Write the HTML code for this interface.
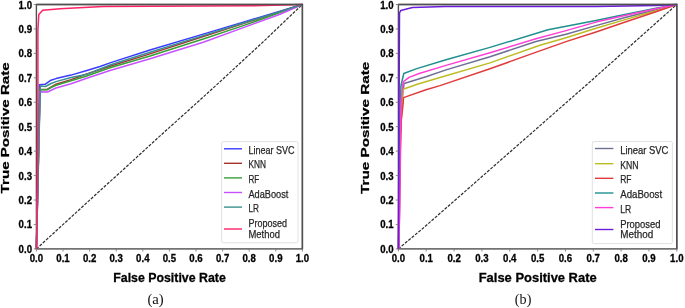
<!DOCTYPE html>
<html><head><meta charset="utf-8"><style>
html,body{margin:0;padding:0;background:#fff;width:685px;height:308px;overflow:hidden;}
.tb{stroke:#000;stroke-width:0.3px}
.tn{stroke:#262626;stroke-width:0.25px}
</style></head><body>
<div style="will-change:transform;width:685px;height:308px">
<svg width="685" height="308" viewBox="0 0 685 308" style="display:block">
<rect width="685" height="308" fill="#fff"/>
<rect x="36.4" y="4.5" width="266.0" height="244.4" fill="none" stroke="#505050" stroke-width="1.4"/>
<polyline points="36.40,248.90 101.60,189.20 122.20,170.60 156.40,139.20 201.30,98.80 221.20,80.65 250.00,54.00 264.50,40.60 286.70,19.30 302.40,4.50" fill="none" stroke="#2e2e2e" stroke-width="1.2" stroke-dasharray="3.0 1.35"/>
<rect x="398.4" y="4.5" width="278.4" height="244.4" fill="none" stroke="#505050" stroke-width="1.4"/>
<polyline points="398.40,248.90 401.10,246.50 423.00,228.30 591.70,80.30 655.40,23.50 676.80,4.50" fill="none" stroke="#2e2e2e" stroke-width="1.2" stroke-dasharray="3.0 1.35"/>
<polyline points="36.40,248.90 39.50,84.80 45.00,84.30 51.00,80.20 56.00,78.60 71.00,75.10 86.00,70.80 100.00,66.50 110.00,62.90 150.00,50.00 204.00,33.90 244.00,21.90 302.40,4.50" fill="none" stroke="#3b3bff" stroke-width="1.5" stroke-linejoin="round" stroke-linecap="butt"/>
<polyline points="36.40,248.90 40.00,89.50 47.00,89.50 56.00,84.20 71.00,79.60 86.00,74.30 110.00,66.20 150.00,53.90 204.00,36.30 244.00,23.40 302.40,4.50" fill="none" stroke="#a83232" stroke-width="1.5" stroke-linejoin="round" stroke-linecap="butt"/>
<polyline points="36.40,248.90 40.00,89.70 47.50,89.70 51.00,87.50 56.00,85.20 71.00,80.80 86.00,76.20 110.00,67.70 150.00,56.00 204.00,38.70 244.00,25.40 280.00,12.60 302.40,4.50" fill="none" stroke="#36a036" stroke-width="1.5" stroke-linejoin="round" stroke-linecap="butt"/>
<polyline points="36.40,248.90 40.00,91.80 47.50,92.00 56.00,88.00 71.00,83.70 86.00,78.50 110.00,70.50 150.00,58.80 204.00,42.00 244.00,27.40 280.00,14.20 302.40,4.50" fill="none" stroke="#c850ff" stroke-width="1.5" stroke-linejoin="round" stroke-linecap="butt"/>
<polyline points="36.40,248.90 40.30,86.00 45.50,86.50 51.00,83.50 56.00,81.60 71.00,77.50 86.00,74.60 110.00,65.00 150.00,52.30 204.00,35.40 244.00,22.80 280.00,11.60 302.40,4.50" fill="none" stroke="#3a8f8f" stroke-width="1.5" stroke-linejoin="round" stroke-linecap="butt"/>
<polyline points="36.40,248.90 37.40,200.00 37.90,110.00 37.90,30.00 38.80,14.60 42.70,10.20 60.00,8.80 103.00,6.50 250.00,5.80 302.40,4.50" fill="none" stroke="#ff2266" stroke-width="1.5" stroke-linejoin="round" stroke-linecap="butt"/>
<polyline points="398.40,248.90 400.00,140.00 402.50,95.00 404.10,83.50 426.00,76.70 446.00,69.90 490.00,56.70 536.00,41.50 566.00,34.20 596.00,25.60 626.00,17.30 656.00,9.70 676.80,4.50" fill="none" stroke="#6f6f95" stroke-width="1.5" stroke-linejoin="round" stroke-linecap="butt"/>
<polyline points="398.40,248.90 400.00,140.00 402.50,100.00 403.10,89.20 418.00,84.00 440.00,77.50 490.00,62.90 540.00,45.20 566.00,37.70 596.00,28.30 626.00,19.40 656.00,10.70 676.80,4.50" fill="none" stroke="#bcbd22" stroke-width="1.5" stroke-linejoin="round" stroke-linecap="butt"/>
<polyline points="398.80,248.90 399.70,204.00 400.50,150.00 401.30,120.00 403.10,104.00 403.50,97.60 426.00,89.80 440.00,85.60 490.00,68.80 530.00,54.40 566.00,41.60 596.00,32.00 626.00,21.70 656.00,11.80 676.80,4.50" fill="none" stroke="#e03c3c" stroke-width="1.5" stroke-linejoin="round" stroke-linecap="butt"/>
<polyline points="398.40,248.90 399.60,140.00 400.90,86.00 403.80,73.50 416.00,68.90 446.00,59.80 490.00,47.40 548.00,29.80 596.00,20.40 626.00,14.20 656.00,8.20 676.80,4.50" fill="none" stroke="#1f8f8f" stroke-width="1.5" stroke-linejoin="round" stroke-linecap="butt"/>
<polyline points="398.80,248.90 399.70,204.00 400.60,126.00 401.00,104.00 402.50,86.00 403.50,81.60 409.00,77.40 419.20,73.50 446.00,65.40 490.00,52.80 536.00,38.70 566.00,30.60 596.00,22.10 626.00,15.20 656.00,8.70 676.80,4.50" fill="none" stroke="#ff3fd8" stroke-width="1.5" stroke-linejoin="round" stroke-linecap="butt"/>
<polyline points="398.40,248.90 399.50,13.00 400.80,10.40 412.50,7.50 445.00,6.50 596.00,6.60 656.00,5.60 676.80,4.50" fill="none" stroke="#6a1ddb" stroke-width="1.5" stroke-linejoin="round" stroke-linecap="butt"/>
<polyline points="36.4,4.5 302.4,4.5 302.4,248.9" fill="none" stroke="#505050" stroke-width="1.4"/>
<line x1="36.40" y1="248.9" x2="36.40" y2="251.5" stroke="#7a7a7a" stroke-width="0.9"/>
<line x1="33.8" y1="248.90" x2="36.4" y2="248.90" stroke="#7a7a7a" stroke-width="0.9"/>
<text x="36.40" y="262.00" font-family='"Liberation Sans", sans-serif' font-size="10.6" font-weight="bold" text-anchor="middle" fill="#000" textLength="13.40" lengthAdjust="spacingAndGlyphs" class="tb">0.0</text>
<text x="32.00" y="252.90" font-family='"Liberation Sans", sans-serif' font-size="10.6" font-weight="bold" text-anchor="end" fill="#000" textLength="13.40" lengthAdjust="spacingAndGlyphs" class="tb">0.0</text>
<line x1="63.00" y1="248.9" x2="63.00" y2="251.5" stroke="#7a7a7a" stroke-width="0.9"/>
<line x1="33.8" y1="224.46" x2="36.4" y2="224.46" stroke="#7a7a7a" stroke-width="0.9"/>
<text x="63.00" y="262.00" font-family='"Liberation Sans", sans-serif' font-size="10.6" font-weight="bold" text-anchor="middle" fill="#000" textLength="13.40" lengthAdjust="spacingAndGlyphs" class="tb">0.1</text>
<text x="32.00" y="228.46" font-family='"Liberation Sans", sans-serif' font-size="10.6" font-weight="bold" text-anchor="end" fill="#000" textLength="13.40" lengthAdjust="spacingAndGlyphs" class="tb">0.1</text>
<line x1="89.60" y1="248.9" x2="89.60" y2="251.5" stroke="#7a7a7a" stroke-width="0.9"/>
<line x1="33.8" y1="200.02" x2="36.4" y2="200.02" stroke="#7a7a7a" stroke-width="0.9"/>
<text x="89.60" y="262.00" font-family='"Liberation Sans", sans-serif' font-size="10.6" font-weight="bold" text-anchor="middle" fill="#000" textLength="13.40" lengthAdjust="spacingAndGlyphs" class="tb">0.2</text>
<text x="32.00" y="204.02" font-family='"Liberation Sans", sans-serif' font-size="10.6" font-weight="bold" text-anchor="end" fill="#000" textLength="13.40" lengthAdjust="spacingAndGlyphs" class="tb">0.2</text>
<line x1="116.20" y1="248.9" x2="116.20" y2="251.5" stroke="#7a7a7a" stroke-width="0.9"/>
<line x1="33.8" y1="175.58" x2="36.4" y2="175.58" stroke="#7a7a7a" stroke-width="0.9"/>
<text x="116.20" y="262.00" font-family='"Liberation Sans", sans-serif' font-size="10.6" font-weight="bold" text-anchor="middle" fill="#000" textLength="13.40" lengthAdjust="spacingAndGlyphs" class="tb">0.3</text>
<text x="32.00" y="179.58" font-family='"Liberation Sans", sans-serif' font-size="10.6" font-weight="bold" text-anchor="end" fill="#000" textLength="13.40" lengthAdjust="spacingAndGlyphs" class="tb">0.3</text>
<line x1="142.80" y1="248.9" x2="142.80" y2="251.5" stroke="#7a7a7a" stroke-width="0.9"/>
<line x1="33.8" y1="151.14" x2="36.4" y2="151.14" stroke="#7a7a7a" stroke-width="0.9"/>
<text x="142.80" y="262.00" font-family='"Liberation Sans", sans-serif' font-size="10.6" font-weight="bold" text-anchor="middle" fill="#000" textLength="13.40" lengthAdjust="spacingAndGlyphs" class="tb">0.4</text>
<text x="32.00" y="155.14" font-family='"Liberation Sans", sans-serif' font-size="10.6" font-weight="bold" text-anchor="end" fill="#000" textLength="13.40" lengthAdjust="spacingAndGlyphs" class="tb">0.4</text>
<line x1="169.40" y1="248.9" x2="169.40" y2="251.5" stroke="#7a7a7a" stroke-width="0.9"/>
<line x1="33.8" y1="126.70" x2="36.4" y2="126.70" stroke="#7a7a7a" stroke-width="0.9"/>
<text x="169.40" y="262.00" font-family='"Liberation Sans", sans-serif' font-size="10.6" font-weight="bold" text-anchor="middle" fill="#000" textLength="13.40" lengthAdjust="spacingAndGlyphs" class="tb">0.5</text>
<text x="32.00" y="130.70" font-family='"Liberation Sans", sans-serif' font-size="10.6" font-weight="bold" text-anchor="end" fill="#000" textLength="13.40" lengthAdjust="spacingAndGlyphs" class="tb">0.5</text>
<line x1="196.00" y1="248.9" x2="196.00" y2="251.5" stroke="#7a7a7a" stroke-width="0.9"/>
<line x1="33.8" y1="102.26" x2="36.4" y2="102.26" stroke="#7a7a7a" stroke-width="0.9"/>
<text x="196.00" y="262.00" font-family='"Liberation Sans", sans-serif' font-size="10.6" font-weight="bold" text-anchor="middle" fill="#000" textLength="13.40" lengthAdjust="spacingAndGlyphs" class="tb">0.6</text>
<text x="32.00" y="106.26" font-family='"Liberation Sans", sans-serif' font-size="10.6" font-weight="bold" text-anchor="end" fill="#000" textLength="13.40" lengthAdjust="spacingAndGlyphs" class="tb">0.6</text>
<line x1="222.60" y1="248.9" x2="222.60" y2="251.5" stroke="#7a7a7a" stroke-width="0.9"/>
<line x1="33.8" y1="77.82" x2="36.4" y2="77.82" stroke="#7a7a7a" stroke-width="0.9"/>
<text x="222.60" y="262.00" font-family='"Liberation Sans", sans-serif' font-size="10.6" font-weight="bold" text-anchor="middle" fill="#000" textLength="13.40" lengthAdjust="spacingAndGlyphs" class="tb">0.7</text>
<text x="32.00" y="81.82" font-family='"Liberation Sans", sans-serif' font-size="10.6" font-weight="bold" text-anchor="end" fill="#000" textLength="13.40" lengthAdjust="spacingAndGlyphs" class="tb">0.7</text>
<line x1="249.20" y1="248.9" x2="249.20" y2="251.5" stroke="#7a7a7a" stroke-width="0.9"/>
<line x1="33.8" y1="53.38" x2="36.4" y2="53.38" stroke="#7a7a7a" stroke-width="0.9"/>
<text x="249.20" y="262.00" font-family='"Liberation Sans", sans-serif' font-size="10.6" font-weight="bold" text-anchor="middle" fill="#000" textLength="13.40" lengthAdjust="spacingAndGlyphs" class="tb">0.8</text>
<text x="32.00" y="57.38" font-family='"Liberation Sans", sans-serif' font-size="10.6" font-weight="bold" text-anchor="end" fill="#000" textLength="13.40" lengthAdjust="spacingAndGlyphs" class="tb">0.8</text>
<line x1="275.80" y1="248.9" x2="275.80" y2="251.5" stroke="#7a7a7a" stroke-width="0.9"/>
<line x1="33.8" y1="28.94" x2="36.4" y2="28.94" stroke="#7a7a7a" stroke-width="0.9"/>
<text x="275.80" y="262.00" font-family='"Liberation Sans", sans-serif' font-size="10.6" font-weight="bold" text-anchor="middle" fill="#000" textLength="13.40" lengthAdjust="spacingAndGlyphs" class="tb">0.9</text>
<text x="32.00" y="32.94" font-family='"Liberation Sans", sans-serif' font-size="10.6" font-weight="bold" text-anchor="end" fill="#000" textLength="13.40" lengthAdjust="spacingAndGlyphs" class="tb">0.9</text>
<line x1="302.40" y1="248.9" x2="302.40" y2="251.5" stroke="#7a7a7a" stroke-width="0.9"/>
<line x1="33.8" y1="4.50" x2="36.4" y2="4.50" stroke="#7a7a7a" stroke-width="0.9"/>
<text x="302.40" y="262.00" font-family='"Liberation Sans", sans-serif' font-size="10.6" font-weight="bold" text-anchor="middle" fill="#000" textLength="13.40" lengthAdjust="spacingAndGlyphs" class="tb">1.0</text>
<text x="32.00" y="8.50" font-family='"Liberation Sans", sans-serif' font-size="10.6" font-weight="bold" text-anchor="end" fill="#000" textLength="13.40" lengthAdjust="spacingAndGlyphs" class="tb">1.0</text>
<polyline points="398.4,4.5 676.8,4.5 676.8,248.9" fill="none" stroke="#505050" stroke-width="1.4"/>
<line x1="398.40" y1="248.9" x2="398.40" y2="251.5" stroke="#7a7a7a" stroke-width="0.9"/>
<line x1="395.79999999999995" y1="248.90" x2="398.4" y2="248.90" stroke="#7a7a7a" stroke-width="0.9"/>
<text x="398.40" y="262.00" font-family='"Liberation Sans", sans-serif' font-size="10.6" font-weight="bold" text-anchor="middle" fill="#000" textLength="13.40" lengthAdjust="spacingAndGlyphs" class="tb">0.0</text>
<text x="393.60" y="252.90" font-family='"Liberation Sans", sans-serif' font-size="10.6" font-weight="bold" text-anchor="end" fill="#000" textLength="13.40" lengthAdjust="spacingAndGlyphs" class="tb">0.0</text>
<line x1="426.24" y1="248.9" x2="426.24" y2="251.5" stroke="#7a7a7a" stroke-width="0.9"/>
<line x1="395.79999999999995" y1="224.46" x2="398.4" y2="224.46" stroke="#7a7a7a" stroke-width="0.9"/>
<text x="426.24" y="262.00" font-family='"Liberation Sans", sans-serif' font-size="10.6" font-weight="bold" text-anchor="middle" fill="#000" textLength="13.40" lengthAdjust="spacingAndGlyphs" class="tb">0.1</text>
<text x="393.60" y="228.46" font-family='"Liberation Sans", sans-serif' font-size="10.6" font-weight="bold" text-anchor="end" fill="#000" textLength="13.40" lengthAdjust="spacingAndGlyphs" class="tb">0.1</text>
<line x1="454.08" y1="248.9" x2="454.08" y2="251.5" stroke="#7a7a7a" stroke-width="0.9"/>
<line x1="395.79999999999995" y1="200.02" x2="398.4" y2="200.02" stroke="#7a7a7a" stroke-width="0.9"/>
<text x="454.08" y="262.00" font-family='"Liberation Sans", sans-serif' font-size="10.6" font-weight="bold" text-anchor="middle" fill="#000" textLength="13.40" lengthAdjust="spacingAndGlyphs" class="tb">0.2</text>
<text x="393.60" y="204.02" font-family='"Liberation Sans", sans-serif' font-size="10.6" font-weight="bold" text-anchor="end" fill="#000" textLength="13.40" lengthAdjust="spacingAndGlyphs" class="tb">0.2</text>
<line x1="481.92" y1="248.9" x2="481.92" y2="251.5" stroke="#7a7a7a" stroke-width="0.9"/>
<line x1="395.79999999999995" y1="175.58" x2="398.4" y2="175.58" stroke="#7a7a7a" stroke-width="0.9"/>
<text x="481.92" y="262.00" font-family='"Liberation Sans", sans-serif' font-size="10.6" font-weight="bold" text-anchor="middle" fill="#000" textLength="13.40" lengthAdjust="spacingAndGlyphs" class="tb">0.3</text>
<text x="393.60" y="179.58" font-family='"Liberation Sans", sans-serif' font-size="10.6" font-weight="bold" text-anchor="end" fill="#000" textLength="13.40" lengthAdjust="spacingAndGlyphs" class="tb">0.3</text>
<line x1="509.76" y1="248.9" x2="509.76" y2="251.5" stroke="#7a7a7a" stroke-width="0.9"/>
<line x1="395.79999999999995" y1="151.14" x2="398.4" y2="151.14" stroke="#7a7a7a" stroke-width="0.9"/>
<text x="509.76" y="262.00" font-family='"Liberation Sans", sans-serif' font-size="10.6" font-weight="bold" text-anchor="middle" fill="#000" textLength="13.40" lengthAdjust="spacingAndGlyphs" class="tb">0.4</text>
<text x="393.60" y="155.14" font-family='"Liberation Sans", sans-serif' font-size="10.6" font-weight="bold" text-anchor="end" fill="#000" textLength="13.40" lengthAdjust="spacingAndGlyphs" class="tb">0.4</text>
<line x1="537.60" y1="248.9" x2="537.60" y2="251.5" stroke="#7a7a7a" stroke-width="0.9"/>
<line x1="395.79999999999995" y1="126.70" x2="398.4" y2="126.70" stroke="#7a7a7a" stroke-width="0.9"/>
<text x="537.60" y="262.00" font-family='"Liberation Sans", sans-serif' font-size="10.6" font-weight="bold" text-anchor="middle" fill="#000" textLength="13.40" lengthAdjust="spacingAndGlyphs" class="tb">0.5</text>
<text x="393.60" y="130.70" font-family='"Liberation Sans", sans-serif' font-size="10.6" font-weight="bold" text-anchor="end" fill="#000" textLength="13.40" lengthAdjust="spacingAndGlyphs" class="tb">0.5</text>
<line x1="565.44" y1="248.9" x2="565.44" y2="251.5" stroke="#7a7a7a" stroke-width="0.9"/>
<line x1="395.79999999999995" y1="102.26" x2="398.4" y2="102.26" stroke="#7a7a7a" stroke-width="0.9"/>
<text x="565.44" y="262.00" font-family='"Liberation Sans", sans-serif' font-size="10.6" font-weight="bold" text-anchor="middle" fill="#000" textLength="13.40" lengthAdjust="spacingAndGlyphs" class="tb">0.6</text>
<text x="393.60" y="106.26" font-family='"Liberation Sans", sans-serif' font-size="10.6" font-weight="bold" text-anchor="end" fill="#000" textLength="13.40" lengthAdjust="spacingAndGlyphs" class="tb">0.6</text>
<line x1="593.28" y1="248.9" x2="593.28" y2="251.5" stroke="#7a7a7a" stroke-width="0.9"/>
<line x1="395.79999999999995" y1="77.82" x2="398.4" y2="77.82" stroke="#7a7a7a" stroke-width="0.9"/>
<text x="593.28" y="262.00" font-family='"Liberation Sans", sans-serif' font-size="10.6" font-weight="bold" text-anchor="middle" fill="#000" textLength="13.40" lengthAdjust="spacingAndGlyphs" class="tb">0.7</text>
<text x="393.60" y="81.82" font-family='"Liberation Sans", sans-serif' font-size="10.6" font-weight="bold" text-anchor="end" fill="#000" textLength="13.40" lengthAdjust="spacingAndGlyphs" class="tb">0.7</text>
<line x1="621.12" y1="248.9" x2="621.12" y2="251.5" stroke="#7a7a7a" stroke-width="0.9"/>
<line x1="395.79999999999995" y1="53.38" x2="398.4" y2="53.38" stroke="#7a7a7a" stroke-width="0.9"/>
<text x="621.12" y="262.00" font-family='"Liberation Sans", sans-serif' font-size="10.6" font-weight="bold" text-anchor="middle" fill="#000" textLength="13.40" lengthAdjust="spacingAndGlyphs" class="tb">0.8</text>
<text x="393.60" y="57.38" font-family='"Liberation Sans", sans-serif' font-size="10.6" font-weight="bold" text-anchor="end" fill="#000" textLength="13.40" lengthAdjust="spacingAndGlyphs" class="tb">0.8</text>
<line x1="648.96" y1="248.9" x2="648.96" y2="251.5" stroke="#7a7a7a" stroke-width="0.9"/>
<line x1="395.79999999999995" y1="28.94" x2="398.4" y2="28.94" stroke="#7a7a7a" stroke-width="0.9"/>
<text x="648.96" y="262.00" font-family='"Liberation Sans", sans-serif' font-size="10.6" font-weight="bold" text-anchor="middle" fill="#000" textLength="13.40" lengthAdjust="spacingAndGlyphs" class="tb">0.9</text>
<text x="393.60" y="32.94" font-family='"Liberation Sans", sans-serif' font-size="10.6" font-weight="bold" text-anchor="end" fill="#000" textLength="13.40" lengthAdjust="spacingAndGlyphs" class="tb">0.9</text>
<line x1="676.80" y1="248.9" x2="676.80" y2="251.5" stroke="#7a7a7a" stroke-width="0.9"/>
<line x1="395.79999999999995" y1="4.50" x2="398.4" y2="4.50" stroke="#7a7a7a" stroke-width="0.9"/>
<text x="676.80" y="262.00" font-family='"Liberation Sans", sans-serif' font-size="10.6" font-weight="bold" text-anchor="middle" fill="#000" textLength="13.40" lengthAdjust="spacingAndGlyphs" class="tb">1.0</text>
<text x="393.60" y="8.50" font-family='"Liberation Sans", sans-serif' font-size="10.6" font-weight="bold" text-anchor="end" fill="#000" textLength="13.40" lengthAdjust="spacingAndGlyphs" class="tb">1.0</text>
<rect x="221.6" y="141.6" width="76.4" height="101.20000000000002" rx="1.6" ry="1.6" fill="#fff" fill-opacity="0.8" stroke="#dedede" stroke-width="0.9"/>
<line x1="224" y1="148.8" x2="242" y2="148.8" stroke="#3b3bff" stroke-width="1.4"/>
<line x1="224" y1="163.3" x2="242" y2="163.3" stroke="#a83232" stroke-width="1.4"/>
<line x1="224" y1="177.9" x2="242" y2="177.9" stroke="#36a036" stroke-width="1.4"/>
<line x1="224" y1="192.5" x2="242" y2="192.5" stroke="#c850ff" stroke-width="1.4"/>
<line x1="224" y1="207.1" x2="242" y2="207.1" stroke="#3a8f8f" stroke-width="1.4"/>
<line x1="224" y1="229" x2="242" y2="229" stroke="#ff2266" stroke-width="1.4"/>
<text x="248.40" y="153.80" font-family='"Liberation Sans", sans-serif' font-size="11" font-weight="normal" text-anchor="start" fill="#262626" textLength="46.00" lengthAdjust="spacingAndGlyphs" class="tn">Linear SVC</text>
<text x="248.40" y="168.30" font-family='"Liberation Sans", sans-serif' font-size="11" font-weight="normal" text-anchor="start" fill="#262626" textLength="17.50" lengthAdjust="spacingAndGlyphs" class="tn">KNN</text>
<text x="248.40" y="182.90" font-family='"Liberation Sans", sans-serif' font-size="11" font-weight="normal" text-anchor="start" fill="#262626" textLength="10.80" lengthAdjust="spacingAndGlyphs" class="tn">RF</text>
<text x="248.40" y="197.50" font-family='"Liberation Sans", sans-serif' font-size="11" font-weight="normal" text-anchor="start" fill="#262626" textLength="40.00" lengthAdjust="spacingAndGlyphs" class="tn">AdaBoost</text>
<text x="248.40" y="212.10" font-family='"Liberation Sans", sans-serif' font-size="11" font-weight="normal" text-anchor="start" fill="#262626" textLength="10.50" lengthAdjust="spacingAndGlyphs" class="tn">LR</text>
<text x="248.40" y="227.20" font-family='"Liberation Sans", sans-serif' font-size="11" font-weight="normal" text-anchor="start" fill="#262626" textLength="38.50" lengthAdjust="spacingAndGlyphs" class="tn">Proposed</text>
<text x="248.40" y="237.80" font-family='"Liberation Sans", sans-serif' font-size="11" font-weight="normal" text-anchor="start" fill="#262626" textLength="31.50" lengthAdjust="spacingAndGlyphs" class="tn">Method</text>
<rect x="592.3" y="141.5" width="80.10000000000002" height="102.1" rx="1.6" ry="1.6" fill="#fff" fill-opacity="0.8" stroke="#dedede" stroke-width="0.9"/>
<line x1="595" y1="148.5" x2="613.4" y2="148.5" stroke="#6f6f95" stroke-width="1.4"/>
<line x1="595" y1="163.7" x2="613.4" y2="163.7" stroke="#bcbd22" stroke-width="1.4"/>
<line x1="595" y1="178.3" x2="613.4" y2="178.3" stroke="#e03c3c" stroke-width="1.4"/>
<line x1="595" y1="193.0" x2="613.4" y2="193.0" stroke="#1f8f8f" stroke-width="1.4"/>
<line x1="595" y1="207.6" x2="613.4" y2="207.6" stroke="#ff3fd8" stroke-width="1.4"/>
<line x1="595" y1="229.5" x2="613.4" y2="229.5" stroke="#6a1ddb" stroke-width="1.4"/>
<text x="620.20" y="153.50" font-family='"Liberation Sans", sans-serif' font-size="11" font-weight="normal" text-anchor="start" fill="#262626" textLength="48.21" lengthAdjust="spacingAndGlyphs" class="tn">Linear SVC</text>
<text x="620.20" y="168.70" font-family='"Liberation Sans", sans-serif' font-size="11" font-weight="normal" text-anchor="start" fill="#262626" textLength="18.34" lengthAdjust="spacingAndGlyphs" class="tn">KNN</text>
<text x="620.20" y="183.30" font-family='"Liberation Sans", sans-serif' font-size="11" font-weight="normal" text-anchor="start" fill="#262626" textLength="11.32" lengthAdjust="spacingAndGlyphs" class="tn">RF</text>
<text x="620.20" y="198.00" font-family='"Liberation Sans", sans-serif' font-size="11" font-weight="normal" text-anchor="start" fill="#262626" textLength="41.92" lengthAdjust="spacingAndGlyphs" class="tn">AdaBoost</text>
<text x="620.20" y="212.60" font-family='"Liberation Sans", sans-serif' font-size="11" font-weight="normal" text-anchor="start" fill="#262626" textLength="11.00" lengthAdjust="spacingAndGlyphs" class="tn">LR</text>
<text x="620.20" y="227.70" font-family='"Liberation Sans", sans-serif' font-size="11" font-weight="normal" text-anchor="start" fill="#262626" textLength="40.35" lengthAdjust="spacingAndGlyphs" class="tn">Proposed</text>
<text x="620.20" y="238.30" font-family='"Liberation Sans", sans-serif' font-size="11" font-weight="normal" text-anchor="start" fill="#262626" textLength="33.01" lengthAdjust="spacingAndGlyphs" class="tn">Method</text>
<text x="169.50" y="281.50" font-family='"Liberation Sans", sans-serif' font-size="13.5" font-weight="bold" text-anchor="middle" fill="#000" textLength="112.50" lengthAdjust="spacingAndGlyphs" class="tb">False Positive Rate</text>
<text x="537.70" y="281.90" font-family='"Liberation Sans", sans-serif' font-size="13.5" font-weight="bold" text-anchor="middle" fill="#000" textLength="118.00" lengthAdjust="spacingAndGlyphs" class="tb">False Positive Rate</text>
<text x="0" y="0" transform="translate(9.4,127.85) scale(0.87,1) rotate(-90)" font-family='"Liberation Sans", sans-serif' font-size="13.5" font-weight="bold" text-anchor="middle" textLength="131.1" lengthAdjust="spacingAndGlyphs" class="tb">True Positive Rate</text>
<text x="0" y="0" transform="translate(369.3,127.8) scale(0.87,1) rotate(-90)" font-family='"Liberation Sans", sans-serif' font-size="13.5" font-weight="bold" text-anchor="middle" textLength="132.2" lengthAdjust="spacingAndGlyphs" class="tb">True Positive Rate</text>
<text x="155.60" y="304.10" font-family='"Liberation Serif", serif' font-size="15" font-weight="normal" text-anchor="middle" fill="#111" textLength="16.30" lengthAdjust="spacingAndGlyphs" >(a)</text>
<text x="523.10" y="304.10" font-family='"Liberation Serif", serif' font-size="15" font-weight="normal" text-anchor="middle" fill="#111" textLength="16.50" lengthAdjust="spacingAndGlyphs" >(b)</text>
</svg>
</div>
</body></html>
